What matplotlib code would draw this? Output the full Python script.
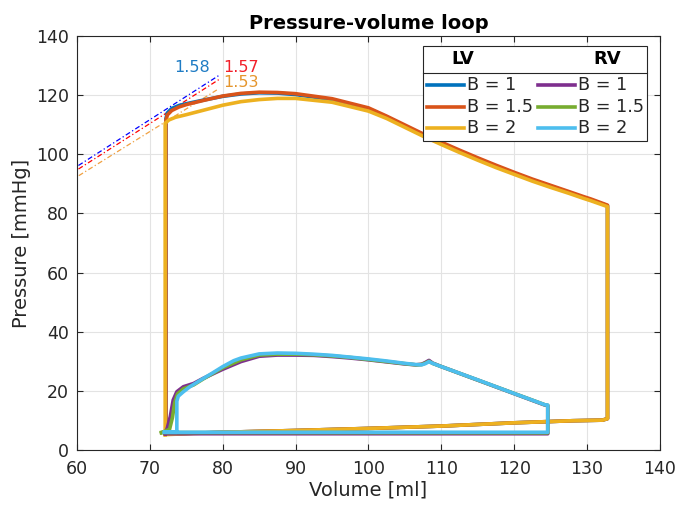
import matplotlib
matplotlib.use("Agg")
import matplotlib.pyplot as plt
import numpy as np
from matplotlib.patches import Rectangle
from matplotlib.lines import Line2D

# --- LV loops (volume [ml], pressure [mmHg]) ---
lv_vol = [72.2, 72.2, 72.4, 73, 74, 75, 77.5, 80, 82.5, 85, 87.5, 90, 95, 100, 102.5, 105,
          107.5, 110, 112.5, 115, 117.5, 120, 122.5, 125, 127.5, 129.5, 130.5, 132.8, 132.8,
          132.1, 128, 120, 110, 100, 90, 80, 72.2]
lv1_p = [5.4, 112, 114, 115.5, 116.5, 117.1, 118.4, 119.6, 120.4, 120.8, 120.7, 120.2, 118.5,
         115.4, 112.6, 109.6, 106.6, 103.8, 101.1, 98.5, 96.0, 93.6, 91.3, 89.2, 87.1, 85.4, 84.6,
         82.6, 10.6, 10.1, 9.9, 9.2, 8.1, 7.3, 6.6, 6.0, 5.4]
lv2_p = [5.4, 111.5, 113.3, 114.8, 116, 116.8, 118.3, 119.7, 120.6, 121, 120.9, 120.5, 118.8,
         115.7, 112.9, 109.9, 106.9, 104.1, 101.4, 98.8, 96.3, 93.9, 91.6, 89.5, 87.4, 85.7, 84.9,
         82.8, 10.6, 10.1, 9.9, 9.2, 8.1, 7.3, 6.6, 6.0, 5.4]
lv3_vol = [72.1, 72.1, 72.6, 73.5, 75, 77.5, 80, 82.5, 85, 87.5, 90, 95, 100, 102.5, 105, 107.5,
           110, 112.5, 115, 117.5, 120, 122.5, 125, 127.5, 129.5, 130.5, 132.8, 132.8, 132.1,
           128, 120, 110, 100, 90, 80, 72.1]
lv3_p = [5.2, 110.5, 111.6, 112.5, 113.4, 115, 116.6, 117.8, 118.5, 118.9, 118.9, 117.6, 114.6,
         112.1, 109.1, 106.1, 103.3, 100.6, 98.0, 95.5, 93.2, 90.9, 88.8, 86.8, 85.1, 84.3, 82.3,
         10.6, 10.1, 9.9, 9.2, 8.1, 7.3, 6.6, 6.0, 5.2]

# --- RV loops ---
rv1_vol = [72.1, 124.6, 124.6, 124.2, 110, 108.8, 108.3, 107.8, 107.3, 106.5, 105, 102.5, 100,
           97.5, 95, 92.5, 90, 87.5, 85, 82.5, 80, 77.3, 76, 74.6, 73.7, 73.2, 72.8, 72.4, 72.1]
rv1_p = [5.5, 5.5, 15.0, 15.2, 28.2, 29.4, 30.3, 29.6, 29.0, 28.8, 29.1, 29.8, 30.5, 31.1, 31.6,
         32.0, 32.1, 32.1, 31.7, 29.9, 27.3, 24.2, 22.5, 21.4, 19.7, 16.9, 11.3, 7.5, 5.5]
rv2_vol = [71.6, 124.6, 124.6, 124.2, 110, 108.8, 108.3, 107.8, 107.3, 106.5, 105, 102.5, 100,
           97.5, 95, 92.5, 90, 87.5, 85, 82.5, 80, 77.3, 76, 74.6, 73.8, 73.4, 73.1, 72.7, 71.6]
rv2_p = [5.9, 5.8, 15.1, 15.3, 28.2, 29.3, 30.0, 29.4, 28.9, 28.8, 29.2, 29.9, 30.6, 31.3, 31.8,
         32.2, 32.4, 32.4, 32.1, 30.5, 27.8, 24.0, 22.0, 20.7, 19.0, 16.0, 11.0, 7.0, 5.9]
rv3_vol = [72.0, 124.6, 124.6, 124.2, 120, 115, 110, 108.8, 108.3, 107.8, 107.3, 106.5, 105,
           102.5, 100, 97.5, 95, 92.5, 90, 87.5, 85, 82.5, 81.5, 80, 78.5, 77, 75.5, 74.6, 73.9,
           73.7, 73.7, 72.0]
rv3_p = [6.0, 6.0, 15.2, 15.3, 19.1, 23.7, 28.2, 29.3, 29.9, 29.2, 28.8, 28.9, 29.3, 30.1, 30.8,
         31.4, 32.0, 32.4, 32.7, 32.8, 32.5, 31.1, 30.2, 28.2, 25.9, 23.7, 21.4, 19.7, 18.2, 16.5,
         6.0, 6.0]

# --- ESPVR tangent lines: slope, pressure at V=60, end volume ---
tan_slope = [1.58, 1.57, 1.53]
tan_p60 = [95.9, 94.7, 92.4]
tan_vend = [79.6, 79.6, 79.3]
tan_color = ["#0000ff", "#ff0000", "#f0a040"]
tan_text_color = ["#1f7cc4", "#f2202a", "#e5962e"]
tan_text_pos = [(73.3, 129.4), (80.1, 129.4), (80.1, 124.3)]

LV_COLORS = ["#0072BD", "#D95319", "#EDB120"]
RV_COLORS = ["#7E2F8E", "#77AC30", "#4DBEEE"]
B_LABELS = ["B = 1", "B = 1.5", "B = 2"]
INK = "#262626"

fig = plt.figure(figsize=(6.76, 5.05), dpi=100)
ax = fig.add_axes([0.1139, 0.1089, 0.8624, 0.8198])

for s, p0, ve, c in zip(tan_slope, tan_p60, tan_vend, tan_color):
    v = np.array([55.0, ve])
    ax.plot(v, p0 + s * (v - 60), color=c, lw=0.9, ls=(0, (4, 2, 1, 2)), zorder=2)
for s, c, (tx, ty) in zip(tan_slope, tan_text_color, tan_text_pos):
    ax.text(tx, ty, f"{s:.2f}", color=c, fontsize=11.5, ha="left", va="center")

lw = 2.6
ax.plot(lv_vol, lv1_p, color=LV_COLORS[0], lw=lw, zorder=3)
ax.plot(lv_vol, lv2_p, color=LV_COLORS[1], lw=lw, zorder=3)
ax.plot(lv3_vol, lv3_p, color=LV_COLORS[2], lw=lw, zorder=3)
ax.plot(rv1_vol, rv1_p, color=RV_COLORS[0], lw=lw, zorder=3)
ax.plot(rv2_vol, rv2_p, color=RV_COLORS[1], lw=lw, zorder=3)
ax.plot(rv3_vol, rv3_p, color=RV_COLORS[2], lw=lw, zorder=3)

ax.set_xlim(60, 140)
ax.set_ylim(0, 140)
ax.set_xticks(np.arange(60, 141, 10))
ax.set_yticks(np.arange(0, 141, 20))
ax.grid(True, color="#e3e3e3", lw=0.8)
ax.set_axisbelow(True)
ax.tick_params(direction="in", top=True, right=True, length=4, width=0.8,
               color=INK, labelcolor=INK, labelsize=12.5)
ax.tick_params(axis="x", pad=7)
ax.tick_params(axis="y", pad=6)
for sp in ax.spines.values():
    sp.set_color(INK)
    sp.set_linewidth(0.8)
ax.set_xlabel("Volume [ml]", fontsize=14, color=INK, labelpad=2)
ax.set_ylabel("Pressure [mmHg]", fontsize=14, color=INK, labelpad=3)
ax.set_title("Pressure-volume loop", fontsize=14, fontweight="bold", color="black", pad=5)

# --- two-column legend with LV / RV headers ---
T = ax.transAxes
ax.add_patch(Rectangle((0.593, 0.747), 0.385, 0.229, transform=T, facecolor="white",
                       edgecolor=INK, lw=0.8, zorder=5))
ax.add_line(Line2D([0.593, 0.978], [0.911, 0.911], transform=T, color=INK, lw=0.8, zorder=6))
ax.text(0.662, 0.944, "LV", transform=T, fontsize=13, fontweight="bold", ha="center",
        va="center", zorder=6)
ax.text(0.909, 0.944, "RV", transform=T, fontsize=13, fontweight="bold", ha="center",
        va="center", zorder=6)
for i, yy in enumerate([0.882, 0.829, 0.777]):
    ax.add_line(Line2D([0.600, 0.663], [yy, yy], transform=T, color=LV_COLORS[i], lw=lw, zorder=6))
    ax.text(0.669, yy, B_LABELS[i], transform=T, fontsize=12.7, ha="left", va="center",
            color=INK, zorder=6)
    ax.add_line(Line2D([0.791, 0.854], [yy, yy], transform=T, color=RV_COLORS[i], lw=lw, zorder=6))
    ax.text(0.859, yy, B_LABELS[i], transform=T, fontsize=12.7, ha="left", va="center",
            color=INK, zorder=6)

fig.savefig("out.png", dpi=100)
